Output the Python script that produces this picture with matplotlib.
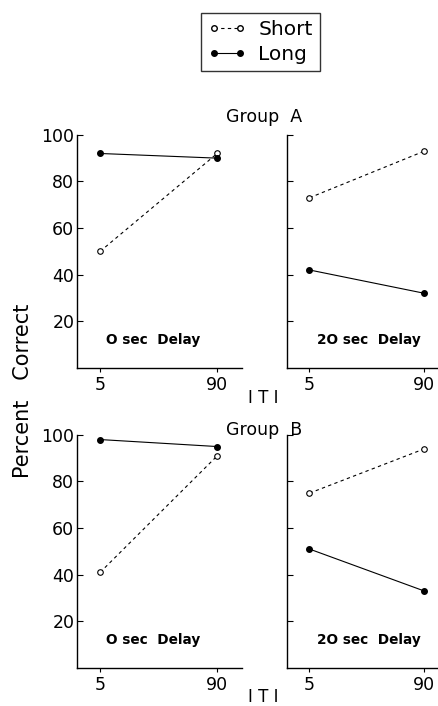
import matplotlib
matplotlib.use('Agg')
import matplotlib.pyplot as plt
from matplotlib.lines import Line2D

plt.rcParams['font.family'] = ['DejaVu Sans']

# ITI conditions (x axis)
iti = ['5', '90']

# Percent correct
a_0sec_short = [50, 92]
a_0sec_long = [92, 90]
a_20sec_short = [73, 93]
a_20sec_long = [42, 32]
b_0sec_short = [41, 91]
b_0sec_long = [98, 95]
b_20sec_short = [75, 94]
b_20sec_long = [51, 33]

panels = [
    (a_0sec_short, a_0sec_long, 'O sec  Delay'),
    (a_20sec_short, a_20sec_long, '2O sec  Delay'),
    (b_0sec_short, b_0sec_long, 'O sec  Delay'),
    (b_20sec_short, b_20sec_long, '2O sec  Delay'),
]

fig = plt.figure(figsize=(4.38, 7.06), dpi=100)

# axes boxes: left column / right column, top row / bottom row
boxes = [
    [0.176, 0.479, 0.377, 0.330],
    [0.655, 0.479, 0.345, 0.330],
    [0.176, 0.054, 0.377, 0.330],
    [0.655, 0.054, 0.345, 0.330],
]

for i, (short, long_, delay) in enumerate(panels):
    ax = fig.add_axes(boxes[i])
    x = range(len(iti))
    ax.plot(x, short, color='black', lw=0.8, ls=(0, (3, 3)), marker='o',
            ms=4, mfc='white', mec='black', mew=0.8)
    ax.plot(x, long_, color='black', lw=0.8, marker='o', ms=4,
            mfc='black', mec='black')
    ax.set_ylim(0, 100)
    ax.set_yticks([20, 40, 60, 80, 100])
    ax.set_xticks(list(x))
    ax.set_xticklabels(iti)
    if i % 2 == 0:
        ax.set_xlim(-0.197, 1.214)
        tx = 0.46
    else:
        ax.set_xlim(-0.197, 1.12)
        ax.set_yticklabels([])
        tx = 0.54
    ax.spines['top'].set_visible(False)
    ax.spines['right'].set_visible(False)
    ax.spines['left'].set_linewidth(1.0)
    ax.spines['bottom'].set_linewidth(1.0)
    ax.tick_params(axis='y', direction='in', length=4, width=0.8, pad=2, labelsize=12.5)
    ax.tick_params(axis='x', direction='out', length=3, width=0.8, pad=3, labelsize=12.5)
    ax.text(tx, 0.12, delay, transform=ax.transAxes,
            ha='center', va='center', fontsize=9.8, fontweight='bold')

# group titles and ITI labels
fig.text(0.603, 0.834, 'Group  A', ha='center', va='center', fontsize=12.5)
fig.text(0.603, 0.391, 'Group  B', ha='center', va='center', fontsize=12.5)
fig.text(0.600, 0.436, 'I T I', ha='center', va='center', fontsize=12)
fig.text(0.600, 0.013, 'I T I', ha='center', va='center', fontsize=12)
fig.text(0.052, 0.446, 'Percent   Correct', rotation=90, ha='center', va='center', fontsize=15)

# legend
handles = [
    Line2D([], [], color='black', lw=0.8, ls=(0, (3, 3)), marker='o', ms=4,
           mfc='white', mec='black'),
    Line2D([], [], color='black', lw=0.8, marker='o', ms=4, mfc='black'),
]
leg = fig.legend(handles, ['Short', 'Long'], loc='center', bbox_to_anchor=(0.594, 0.940),
                 fontsize=14.5, numpoints=2, handlelength=1.9, handletextpad=0.6,
                 labelspacing=0.3, fancybox=False, edgecolor='black', borderpad=0.35)
leg.get_frame().set_linewidth(1.0)

fig.savefig('out.png', dpi=100)
